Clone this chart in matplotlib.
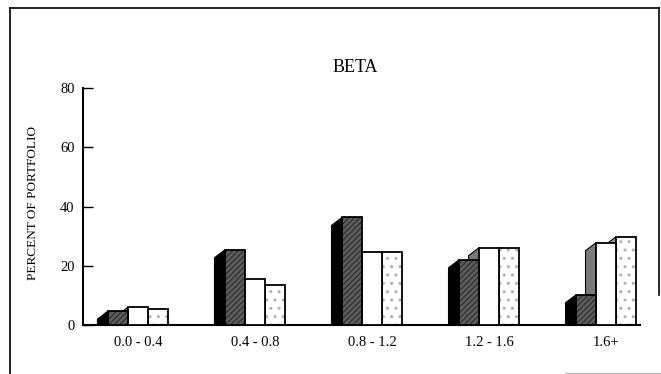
import matplotlib.pyplot as plt
import numpy as np
from matplotlib.lines import Line2D

# beta ranges and the three portfolio series (percent of portfolio)
groups = ['0.0 - 0.4', '0.4 - 0.8', '0.8 - 1.2', '1.2 - 1.6', '1.6+']
dark = [4.7, 25.4, 36.3, 22.0, 10.2]
white = [6.0, 15.6, 24.7, 26.1, 27.8]
dotted = [5.5, 13.4, 24.7, 26.1, 29.8]

plt.rcParams['font.family'] = ['Liberation Serif', 'DejaVu Serif']

fig = plt.figure(figsize=(6.61, 3.74), dpi=100)
ax = fig.add_axes([83 / 661, 49 / 374, 557 / 661, 237 / 374])

x = np.arange(len(groups))
w = 0.171      # width of a bar's front face
d = 0.09       # depth of the side face
drop = 2.7     # how much the side face top slopes down


def bar3d(xl, h, face, side, hatch, hatchcol, z):
    # side face (parallelogram to the left of the front)
    ax.fill([xl - d, xl - d, xl, xl], [0, h - drop, h, 0], facecolor=side,
            edgecolor='black', lw=0.8, zorder=z)
    # front face
    ax.bar(xl, h, width=w, align='edge', color=face, edgecolor=hatchcol,
           hatch=hatch, lw=0, zorder=z + 0.1)
    ax.bar(xl, h, width=w, align='edge', color='none', edgecolor='black',
           lw=1.3, zorder=z + 0.2)


for i in range(len(groups)):
    left = x[i] - 1.5 * w
    bar3d(left + 2 * w, dotted[i], 'white', '#9a9a9a', '..', '#b0b0b0', 2)
    bar3d(left + w, white[i], 'white', '#7a7a7a', None, 'white', 3)
    bar3d(left, dark[i], '#5e5e5e', 'black', '//////', '#333333', 4)

ax.set_xlim(-0.47, 4.29)
ax.set_ylim(0, 80)
ax.set_yticks([0, 20, 40, 60, 80])
ax.set_xticks(x)
ax.set_xticklabels(groups)
ax.tick_params(axis='y', direction='in', length=7, width=1, labelsize=10.5, pad=6)
ax.tick_params(axis='x', length=0, labelsize=10.5, pad=8)
ax.spines['top'].set_visible(False)
ax.spines['right'].set_visible(False)
ax.spines['left'].set_linewidth(1.5)
ax.spines['bottom'].set_linewidth(1.5)
ax.patch.set_alpha(0)

fig.text(355 / 661, 1 - 68 / 374, 'BETA', ha='center', va='center', fontsize=13)
fig.text(33 / 661, 1 - 203 / 374, 'PERCENT OF PORTFOLIO', rotation=90,
         ha='center', va='center', fontsize=9.5)

# outer frame of the scanned page
frame = dict(color='black', lw=1.2, transform=fig.transFigure)
fig.add_artist(Line2D([10 / 661, 10 / 661], [0, 1 - 8 / 374], **frame))
fig.add_artist(Line2D([10 / 661, 659 / 661], [1 - 8 / 374, 1 - 8 / 374], **frame))
fig.add_artist(Line2D([659 / 661, 659 / 661], [1 - 8 / 374, 1 - 295 / 374], **frame))
fig.add_artist(Line2D([565 / 661, 661 / 661], [1 / 374, 1 / 374],
                      color='#bbbbbb', lw=1, transform=fig.transFigure))

fig.savefig('out.png', dpi=100)
